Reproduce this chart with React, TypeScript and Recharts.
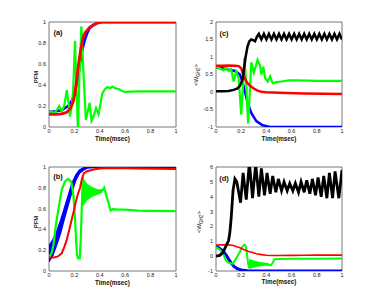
import React from "react";
import { ComposedChart, Line, Area, XAxis, YAxis, ReferenceArea } from "recharts";

type Pt = [number, number];
type Band = [number, number, number];

const timeTicks = [0, 0.2, 0.4, 0.6, 0.8, 1];
const pfmTicks = [0, 0.2, 0.4, 0.6, 0.8, 1];
const ghzTicksC = [-1, -0.5, 0, 0.5, 1, 1.5, 2];
const ghzTicksD = [-1, 0, 1, 2, 3, 4, 5, 6];

// (a) PFM
const aBlue: Pt[] = [[0, 0.145], [0.05, 0.15], [0.1, 0.16], [0.15, 0.2], [0.18, 0.25], [0.2, 0.31], [0.22, 0.42], [0.24, 0.57], [0.26, 0.72], [0.28, 0.82], [0.3, 0.89], [0.32, 0.94], [0.35, 0.975], [0.38, 0.99], [0.42, 1], [1, 1]];
const aGreen: Pt[] = [[0, 0.14], [0.02, 0.15], [0.04, 0.13], [0.06, 0.16], [0.08, 0.2], [0.1, 0.15], [0.12, 0.2], [0.14, 0.35], [0.155, 0.22], [0.165, 0.1], [0.18, 0.2], [0.19, 0.35], [0.205, 0.82], [0.215, 0.4], [0.228, -0.02], [0.24, 0.5], [0.255, 0.96], [0.27, 0.55], [0.29, 0.07], [0.305, 0.15], [0.32, 0.23], [0.335, 0.06], [0.35, 0.1], [0.37, 0.18], [0.39, 0.12], [0.42, 0.32], [0.44, 0.36], [0.46, 0.38], [0.48, 0.37], [0.5, 0.385], [0.52, 0.37], [0.55, 0.36], [0.58, 0.34], [0.6, 0.335], [0.7, 0.34], [0.8, 0.34], [1, 0.34]];
const aRed: Pt[] = [[0, 0.12], [0.05, 0.12], [0.1, 0.125], [0.14, 0.14], [0.17, 0.18], [0.19, 0.24], [0.205, 0.32], [0.22, 0.48], [0.235, 0.62], [0.25, 0.74], [0.27, 0.86], [0.285, 0.9], [0.3, 0.92], [0.32, 0.95], [0.35, 0.97], [0.38, 0.99], [0.42, 1], [1, 1]];

// (b) PFM
const bBlueBand: Band[] = [[0, 0.09, 0.24], [0.03, 0.15, 0.3], [0.06, 0.25, 0.38], [0.09, 0.36, 0.48], [0.12, 0.5, 0.6], [0.15, 0.63, 0.72], [0.18, 0.76, 0.84], [0.21, 0.87, 0.92], [0.24, 0.94, 0.97], [0.27, 0.97, 0.99], [0.3, 0.99, 1]];
const bBlue: Pt[] = [[0, 0.16], [0.03, 0.22], [0.06, 0.31], [0.09, 0.42], [0.12, 0.55], [0.15, 0.68], [0.18, 0.8], [0.21, 0.9], [0.24, 0.955], [0.27, 0.98], [0.3, 0.995], [0.35, 1], [1, 1]];
const bGreenBand: Band[] = [[0.266, 0.88, 0.9], [0.27, 0.64, 0.88], [0.3, 0.69, 0.83], [0.34, 0.72, 0.8], [0.38, 0.74, 0.78], [0.42, 0.76, 0.78]];
const bGreen: Pt[] = [[0, 0.13], [0.02, 0.17], [0.035, 0.25], [0.055, 0.45], [0.075, 0.6], [0.1, 0.78], [0.125, 0.86], [0.15, 0.885], [0.175, 0.86], [0.19, 0.75], [0.2, 0.6], [0.21, 0.38], [0.22, 0.16], [0.228, 0.12], [0.242, 0.12], [0.25, 0.3], [0.258, 0.6], [0.266, 0.9], [0.275, 0.78], [0.3, 0.76], [0.35, 0.76], [0.4, 0.765], [0.425, 0.78], [0.435, 0.8], [0.45, 0.73], [0.47, 0.65], [0.485, 0.58], [0.5, 0.595], [0.55, 0.59], [0.6, 0.59], [0.65, 0.585], [0.7, 0.58], [0.8, 0.578], [1, 0.575]];
const bRed: Pt[] = [[0, 0.13], [0.04, 0.13], [0.07, 0.14], [0.1, 0.17], [0.12, 0.23], [0.14, 0.3], [0.16, 0.4], [0.18, 0.5], [0.2, 0.6], [0.21, 0.66], [0.23, 0.75], [0.245, 0.8], [0.26, 0.89], [0.275, 0.94], [0.3, 0.96], [0.35, 0.975], [0.4, 0.985], [0.5, 0.99], [0.7, 0.985], [1, 0.98]];

// (c) <W_GHZ>
const cBlue: Pt[] = [[0, 0.7], [0.05, 0.68], [0.1, 0.64], [0.15, 0.6], [0.19, 0.5], [0.21, 0.3], [0.23, 0], [0.25, -0.3], [0.28, -0.6], [0.32, -0.83], [0.37, -0.95], [0.42, -0.99], [0.5, -1], [1, -1]];
const cGreen: Pt[] = [[0, 0.7], [0.03, 0.68], [0.06, 0.62], [0.08, 0.7], [0.1, 0.6], [0.12, 0.65], [0.14, 0.3], [0.16, 0.58], [0.18, 0.4], [0.2, -0.65], [0.215, 0.2], [0.225, 0.98], [0.24, 0.2], [0.255, -0.9], [0.27, 0.1], [0.28, 0.85], [0.3, 0.55], [0.33, 0.92], [0.35, 0.75], [0.36, 0.5], [0.375, 0.72], [0.39, 0.4], [0.41, 0.3], [0.43, 0.45], [0.45, 0.25], [0.48, 0.28], [0.52, 0.3], [0.58, 0.33], [0.65, 0.33], [0.8, 0.32], [1, 0.32]];
const cRed: Pt[] = [[0, 0.75], [0.05, 0.75], [0.1, 0.76], [0.15, 0.75], [0.18, 0.74], [0.2, 0.68], [0.215, 0.52], [0.23, 0.38], [0.25, 0.25], [0.27, 0.18], [0.3, 0.1], [0.33, 0.04], [0.36, 0.01], [0.4, -0.01], [0.5, -0.02], [0.7, -0.04], [1, -0.06]];
const cBlack: Pt[] = [[0, 0.02], [0.05, 0.02], [0.1, 0.03], [0.14, 0.06], [0.17, 0.1], [0.19, 0.18], [0.21, 0.35], [0.22, 0.6], [0.235, 1.0], [0.25, 1.3], [0.265, 1.45], [0.28, 1.5], [0.295, 1.48], [0.31, 1.45], [0.325, 1.58], [0.34, 1.66], [0.36, 1.5], [0.38, 1.66], [0.4, 1.5], [0.42, 1.66], [0.44, 1.5], [0.46, 1.66], [0.48, 1.5], [0.5, 1.66], [0.52, 1.5], [0.54, 1.66], [0.56, 1.5], [0.58, 1.66], [0.6, 1.5], [0.62, 1.66], [0.64, 1.5], [0.66, 1.66], [0.68, 1.5], [0.7, 1.66], [0.72, 1.5], [0.74, 1.66], [0.76, 1.5], [0.78, 1.66], [0.8, 1.5], [0.82, 1.66], [0.84, 1.5], [0.86, 1.66], [0.88, 1.5], [0.9, 1.66], [0.92, 1.5], [0.94, 1.66], [0.96, 1.5], [0.98, 1.66], [1, 1.5]];

// (d) <W_GHZ>
const dBlue: Pt[] = [[0, 0.65], [0.02, 0.58], [0.04, 0.45], [0.06, 0.3], [0.08, 0.08], [0.1, -0.2], [0.12, -0.45], [0.14, -0.68], [0.17, -0.85], [0.2, -0.93], [0.25, -0.98], [0.3, -1], [1, -1]];
const dGreenBand: Band[] = [[0.262, -0.82, -0.8], [0.27, -0.8, -0.25], [0.3, -0.72, -0.35], [0.34, -0.65, -0.42], [0.38, -0.6, -0.47], [0.42, -0.58, -0.52]];
const dGreen: Pt[] = [[0, 0.6], [0.03, 0.45], [0.06, 0.1], [0.08, -0.3], [0.1, -0.45], [0.13, -0.5], [0.15, -0.3], [0.17, 0], [0.19, 0.3], [0.21, 0.65], [0.225, 0.78], [0.235, 0.7], [0.245, 0.2], [0.255, -0.5], [0.262, -0.8], [0.27, -0.5], [0.3, -0.52], [0.35, -0.53], [0.4, -0.55], [0.435, -0.62], [0.45, -0.45], [0.465, -0.21], [0.5, -0.19], [0.6, -0.18], [0.8, -0.17], [1, -0.16]];
const dRed: Pt[] = [[0, 0.75], [0.05, 0.76], [0.1, 0.76], [0.13, 0.73], [0.16, 0.65], [0.19, 0.56], [0.22, 0.45], [0.26, 0.32], [0.29, 0.24], [0.32, 0.16], [0.36, 0.1], [0.4, 0.06], [0.45, 0.04], [0.5, 0.04], [0.6, 0.05], [0.7, 0.06], [0.8, 0.07], [1, 0.07]];
const dBlack: Pt[] = [[0, 0], [0.03, 0.05], [0.055, 0.24], [0.08, 0.7], [0.1, 1.05], [0.11, 1.6], [0.12, 2.5], [0.128, 3.5], [0.135, 4.4], [0.15, 5.2], [0.165, 5.0], [0.18, 4.3], [0.195, 3.6], [0.215, 5.6], [0.24, 3.8], [0.265, 6.3], [0.29, 3.9], [0.315, 6.2], [0.34, 4.0], [0.36, 5.9], [0.385, 4.1], [0.405, 5.6], [0.43, 4.2], [0.45, 5.4], [0.475, 4.3], [0.495, 5.2], [0.52, 4.4], [0.54, 5.0], [0.565, 4.4], [0.585, 4.9], [0.61, 4.4], [0.63, 4.9], [0.655, 4.3], [0.675, 5.0], [0.7, 4.3], [0.72, 5.1], [0.745, 4.2], [0.765, 5.2], [0.79, 4.1], [0.81, 5.3], [0.835, 4.0], [0.855, 5.4], [0.88, 3.9], [0.9, 5.6], [0.925, 3.9], [0.945, 5.7], [0.975, 3.9], [1, 5.8]];

const COLORS = {
  blue: "#0000ff",
  green: "#00ff00",
  red: "#ff0000",
  black: "#000000",
} as const;

const FONT = "'Liberation Sans', Arial, sans-serif";
const tickStyle = { fontSize: 5.5, fill: "#222", fontFamily: FONT };

interface Series {
  data: Pt[];
  color: string;
  width: number;
  band?: Band[];
}

interface PanelProps {
  x: number;
  y: number;
  w: number;
  h: number;
  yTicks: number[];
  series: Series[];
}

function Panel({ x, y, w, h, yTicks, series }: PanelProps) {
  const ml = 34, mt = 8, mr = 6, mb = 12;
  const yMin = yTicks[0];
  const yMax = yTicks[yTicks.length - 1];
  return (
    <div style={{ position: "absolute", left: x - ml, top: y - mt }}>
      <ComposedChart
        width={w + ml + mr}
        height={h + mt + mb}
        margin={{ top: mt, right: mr, bottom: 0, left: ml - 14 }}
      >
        <XAxis
          type="number"
          dataKey="t"
          domain={[0, 1]}
          ticks={timeTicks}
          allowDataOverflow
          interval={0}
          height={mb}
          axisLine={false}
          tickLine={false}
          tickSize={2}
          tickMargin={0}
          tick={tickStyle}
        />
        <YAxis
          type="number"
          domain={[yMin, yMax]}
          ticks={yTicks}
          allowDataOverflow
          interval={0}
          width={14}
          axisLine={false}
          tickLine={false}
          tickSize={2}
          tickMargin={1}
          tick={tickStyle}
        />
        <ReferenceArea x1={0} x2={1} y1={yMin} y2={yMax} fill="none" stroke="#555" strokeWidth={0.8} />
        {series.map((s, i) =>
          s.band ? (
            <Area
              key={"band" + i}
              data={s.band.map(([t, lo, hi]) => ({ t, r: [lo, hi] }))}
              dataKey="r"
              type="linear"
              stroke={s.color}
              strokeWidth={1.5}
              fill={s.color}
              fillOpacity={1}
              dot={false}
              activeDot={false}
              isAnimationActive={false}
            />
          ) : null
        )}
        {series.map((s, i) => (
          <Line
            key={"line" + i}
            data={s.data.map(([t, v]) => ({ t, v }))}
            dataKey="v"
            type="linear"
            stroke={s.color}
            strokeWidth={s.width}
            dot={false}
            activeDot={false}
            isAnimationActive={false}
          />
        ))}
      </ComposedChart>
    </div>
  );
}

const abs = (left: number, top: number, extra: React.CSSProperties = {}): React.CSSProperties => ({
  position: "absolute",
  left,
  top,
  transform: "translate(-50%, -50%)",
  whiteSpace: "nowrap",
  fontFamily: FONT,
  fontWeight: "bold",
  color: "#111",
  lineHeight: 1,
  ...extra,
});

export default function App() {
  return (
    <div style={{ position: "absolute", left: 0, top: 0, width: 378, height: 306, background: "#fff", overflow: "hidden" }}>
      <Panel
        x={49} y={22} w={127} h={105} yTicks={pfmTicks}
        series={[
          { data: aBlue, color: COLORS.blue, width: 2.5 },
          { data: aGreen, color: COLORS.green, width: 2.2 },
          { data: aRed, color: COLORS.red, width: 2.8 },
        ]}
      />
      <Panel
        x={216} y={22} w={126} h={105} yTicks={ghzTicksC}
        series={[
          { data: cBlue, color: COLORS.blue, width: 2.5 },
          { data: cGreen, color: COLORS.green, width: 2.2 },
          { data: cRed, color: COLORS.red, width: 2.5 },
          { data: cBlack, color: COLORS.black, width: 2.5 },
        ]}
      />
      <Panel
        x={49} y={167} w={127} h={104} yTicks={pfmTicks}
        series={[
          { data: bBlue, color: COLORS.blue, width: 2.5, band: bBlueBand },
          { data: bGreen, color: COLORS.green, width: 2.2, band: bGreenBand },
          { data: bRed, color: COLORS.red, width: 2 },
        ]}
      />
      <Panel
        x={216} y={167} w={126} h={104} yTicks={ghzTicksD}
        series={[
          { data: dBlue, color: COLORS.blue, width: 3 },
          { data: dGreen, color: COLORS.green, width: 2, band: dGreenBand },
          { data: dRed, color: COLORS.red, width: 1.6 },
          { data: dBlack, color: COLORS.black, width: 2.8 },
        ]}
      />

      {/* panel tags */}
      <div style={abs(58, 33, { fontSize: 7.5 })}>(a)</div>
      <div style={abs(224, 34, { fontSize: 7.5 })}>(c)</div>
      <div style={abs(58, 177, { fontSize: 7.5 })}>(b)</div>
      <div style={abs(224, 179, { fontSize: 7.5 })}>(d)</div>

      {/* x titles */}
      <div style={abs(112.5, 138.8, { fontSize: 6.3 })}>Time(msec)</div>
      <div style={abs(279, 139, { fontSize: 6.3 })}>Time(msec)</div>
      <div style={abs(112.5, 283, { fontSize: 6.3 })}>Time(msec)</div>
      <div style={abs(279, 282, { fontSize: 6.3 })}>Time(msec)</div>

      {/* y titles */}
      <div style={abs(36, 77, { fontSize: 6, transform: "translate(-50%, -50%) rotate(-90deg)" })}>PFM</div>
      <div style={abs(36, 222, { fontSize: 6, transform: "translate(-50%, -50%) rotate(-90deg)" })}>PFM</div>
      <div style={abs(197, 75, { fontSize: 6, fontWeight: "normal", transform: "translate(-50%, -50%) rotate(-90deg)" })}>
        &lt;W<sub style={{ fontSize: 4.5 }}>GHZ</sub>&gt;
      </div>
      <div style={abs(200, 222, { fontSize: 6, fontWeight: "normal", transform: "translate(-50%, -50%) rotate(-90deg)" })}>
        &lt;W<sub style={{ fontSize: 4.5 }}>GHZ</sub>&gt;
      </div>
    </div>
  );
}
